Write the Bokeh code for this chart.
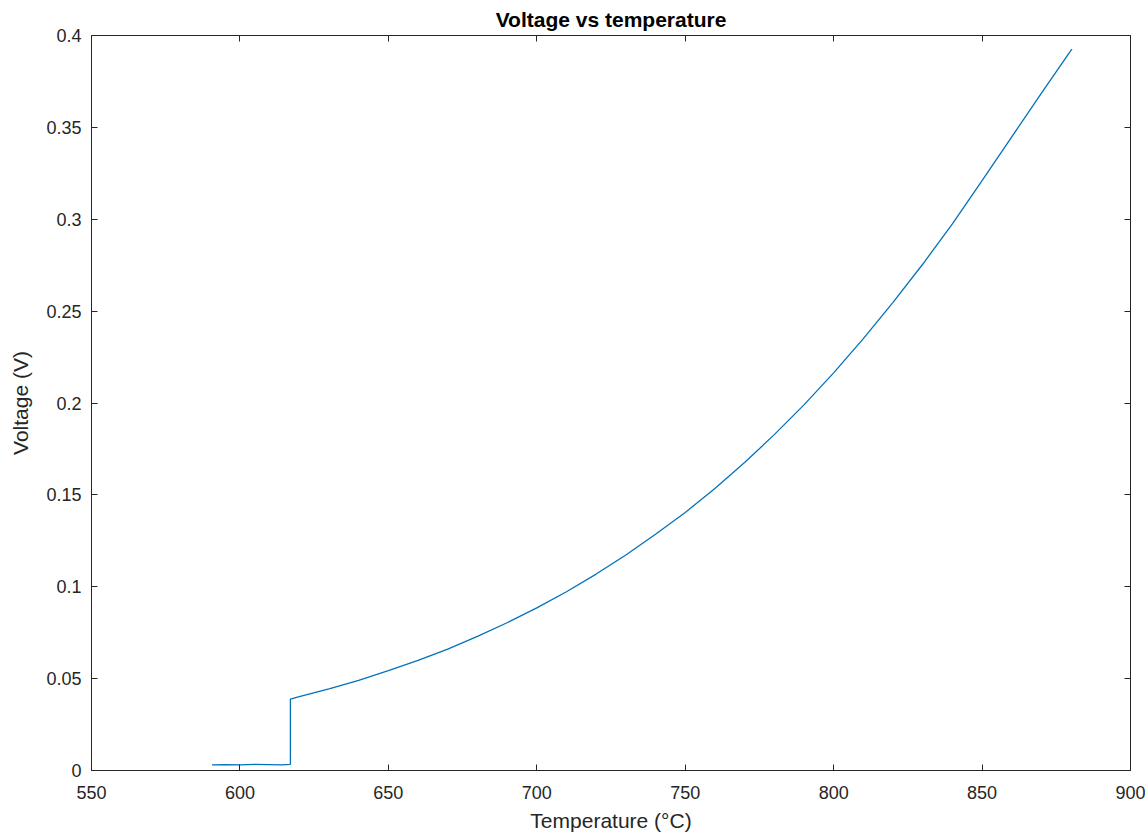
from bokeh.plotting import figure
from bokeh.models import FixedTicker, LinearAxis, Range1d, CustomLabelingPolicy
from bokeh.embed import file_html
from bokeh.resources import INLINE

# Data (temperature in °C, voltage in V)
flat_temp = [590.6, 595.0, 600.0, 605.0, 610.0, 614.0, 617.0]
flat_volt = [0.0031, 0.0032, 0.0031, 0.0033, 0.0032, 0.0031, 0.0033]
curve_temp = [617, 620, 630, 640, 650, 660, 670, 680, 690, 700, 710, 720, 730,
              740, 750, 760, 770, 780, 790, 800, 810, 820, 830, 840, 850, 860,
              870, 880, 880.3]
curve_volt = [0.0388, 0.0402, 0.0444, 0.0491, 0.0543, 0.0599, 0.0661, 0.0730,
              0.0804, 0.0885, 0.0973, 0.1069, 0.1173, 0.1286, 0.1404, 0.1535,
              0.1676, 0.1828, 0.1990, 0.2164, 0.2350, 0.2548, 0.2755, 0.2975,
              0.3210, 0.3448, 0.3686, 0.3920, 0.3926]
temp = flat_temp + curve_temp
volt = flat_volt + curve_volt

x_ticks = [550, 600, 650, 700, 750, 800, 850, 900]
y_ticks = [0, 0.05, 0.1, 0.15, 0.2, 0.25, 0.3, 0.35, 0.4]
y_tick_labels = ["0", "0.05", "0.1", "0.15", "0.2", "0.25", "0.3", "0.35", "0.4"]

FONT = "Liberation Sans"
AX = "#262626"

p = figure(width=1147, height=836, output_backend="svg", toolbar_location=None,
           x_range=Range1d(550, 900), y_range=Range1d(0, 0.4),
           min_border_left=91, min_border_right=17, min_border_top=35,
           min_border_bottom=66, title="Voltage vs temperature")
p.title.text_font = FONT
p.title.text_font_size = "21px"
p.title.text_font_style = "bold"
p.title.text_color = "#000000"
p.title.align = "center"

p.line(temp, volt, line_color="#0072BD", line_width=1.3)

p.grid.visible = False
p.outline_line_color = AX
p.outline_line_width = 1
p.background_fill_color = "white"
p.border_fill_color = "white"

for ax in (p.xaxis[0], p.yaxis[0]):
    ax.major_tick_in = 6
    ax.major_tick_out = 0
    ax.minor_tick_in = 0
    ax.minor_tick_out = 0
    ax.axis_line_color = AX
    ax.major_tick_line_color = AX
    ax.major_label_text_font = FONT
    ax.major_label_text_font_size = "18px"
    ax.major_label_text_color = AX
    ax.axis_label_text_font = FONT
    ax.axis_label_text_font_size = "21px"
    ax.axis_label_text_font_style = "normal"
    ax.axis_label_text_color = AX

p.xaxis[0].ticker = FixedTicker(ticks=x_ticks)
p.yaxis[0].ticker = FixedTicker(ticks=y_ticks)
p.yaxis[0].major_label_overrides = {t: l for t, l in zip(y_ticks, y_tick_labels)}
p.xaxis[0].axis_label = "Temperature (°C)"
p.yaxis[0].axis_label = "Voltage (V)"
p.xaxis[0].major_label_standoff = 15
p.yaxis[0].major_label_standoff = 10
p.xaxis[0].axis_label_standoff = 7
p.yaxis[0].axis_label_standoff = 11

hide_all = CustomLabelingPolicy(code="""
for (const i of Array.from(indices)) {
    if (indices.unset) { indices.unset(i) } else { indices.set(i, false) }
}
return indices
""")

top = LinearAxis(ticker=FixedTicker(ticks=x_ticks))
right = LinearAxis(ticker=FixedTicker(ticks=y_ticks))
for ax in (top, right):
    ax.major_tick_in = 6
    ax.major_tick_out = 0
    ax.minor_tick_in = 0
    ax.minor_tick_out = 0
    ax.axis_line_color = AX
    ax.major_tick_line_color = AX
    ax.major_label_text_font_size = "0px"
    ax.major_label_standoff = 0
    ax.major_label_policy = hide_all
p.add_layout(top, "above")
p.add_layout(right, "right")

open("out.html", "w").write(file_html(p, INLINE))
